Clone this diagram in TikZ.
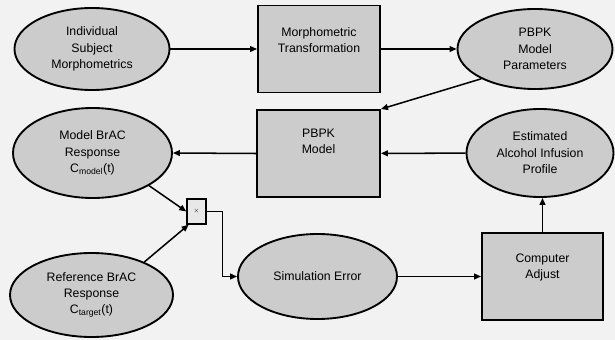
\documentclass[tikz,border=0pt]{standalone}
\usepackage{fontspec}
\setmainfont{Liberation Sans}
\usetikzlibrary{arrows.meta,shapes.geometric,positioning}
\tikzset{
  flow/.style={-{Triangle[length=6pt,width=5pt]}, line width=1.3pt},
  oval/.style={ellipse, draw, line width=1.6pt, fill=gray!40, inner sep=0pt, align=center,
    font=\fontsize{10.5}{14}\selectfont},
  block/.style={rectangle, draw, line width=1.6pt, fill=gray!40, inner sep=0pt, align=center,
    font=\fontsize{10.5}{14}\selectfont},
  mult/.style={rectangle, draw, line width=1.2pt, fill=gray!18, inner sep=0pt, font=\fontsize{5}{6}\selectfont},
}

\begin{document}
\begin{tikzpicture}[x=0.03cm, y=-0.03cm]

  % background and page size
  \fill[gray!10] (0,0) rectangle (615,340);
  \useasboundingbox (0,0) rectangle (615,340);

  % top row
  \node[oval, minimum width=4.65cm, minimum height=2.46cm] (subj) at (92,49)
    {Individual\\Subject\\Morphometrics};
  \node[block, minimum width=3.66cm, minimum height=2.61cm, text depth=0.55cm] (morph) at (319,49)
    {Morphometric\\Transformation};
  \node[oval, minimum width=4.65cm, minimum height=2.4cm] (params) at (535,49)
    {PBPK\\Model\\Parameters};

  % middle row
  \node[oval, minimum width=4.77cm, minimum height=2.7cm] (mbrac) at (92.5,153)
    {Model BrAC\\Response\\C\textsubscript{model}(t)};
  \node[block, minimum width=3.69cm, minimum height=2.61cm, text depth=0.75cm] (pbpk) at (318.5,153.5)
    {PBPK\\Model};
  \node[oval, minimum width=4.41cm, minimum height=2.64cm] (est) at (540,153)
    {Estimated\\Alcohol Infusion\\Profile};

  % comparison
  \node[mult, minimum width=0.57cm, minimum height=0.75cm] (cmp) at (196.5,211.5) {$\times$};

  % bottom row
  \node[oval, minimum width=4.89cm, minimum height=2.52cm] (rbrac) at (91.5,295)
    {Reference BrAC\\Response\\C\textsubscript{target}(t)};
  \node[oval, minimum width=4.77cm, minimum height=2.55cm] (simerr) at (317.5,276.5)
    {Simulation Error};
  \node[block, minimum width=3.63cm, minimum height=2.61cm, text depth=0.6cm] (adjust) at (542.5,276.5)
    {Computer\\Adjust};

  % connectors
  \draw[flow] (subj.east) -- (morph.west);
  \draw[flow] (morph.east) -- (params.west);
  \draw[flow] (params.209) -- (pbpk.north east);
  \draw[flow] (pbpk.west) -- (mbrac.east);
  \draw[flow] (est) -- (pbpk);
  \draw[flow] (mbrac.-30) -- (cmp.west);
  \draw[flow] (rbrac.32) -- ([xshift=2pt]cmp.south west);
  \draw[flow] (cmp.east) -- ++(16,0) |- (simerr.west);
  \draw[flow] (simerr.east) -- (adjust.west);
  \draw[flow] (adjust.north) -- (adjust.north |- est.south);

\end{tikzpicture}
\end{document}
